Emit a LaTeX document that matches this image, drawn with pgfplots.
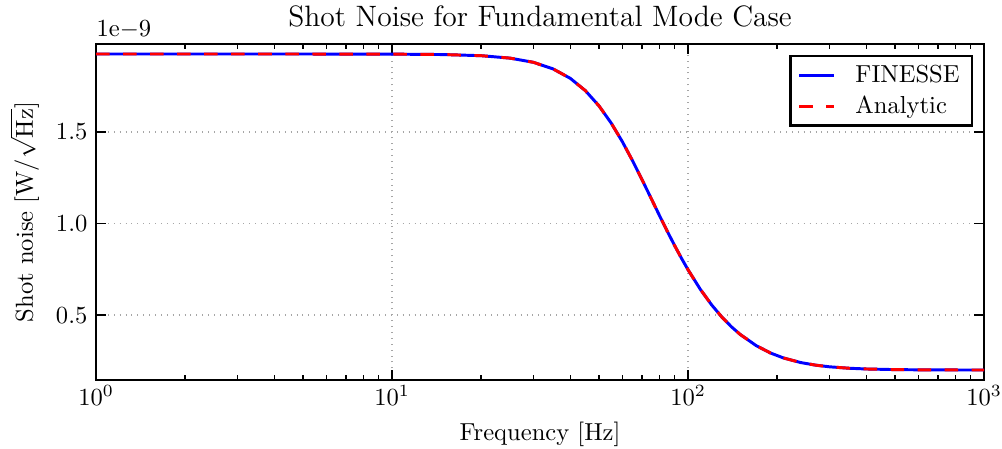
\documentclass[border=0pt]{standalone}
\usepackage{pgfplots}
\pgfplotsset{compat=1.18}
\pgfplotstableread{
f     v
1     1.9263
2     1.9262
5     1.9262
10    1.9256
15    1.9232
20    1.9170
25    1.9039
30    1.8810
35    1.8448
40    1.7934
45    1.7258
50    1.6432
55    1.5489
60    1.4469
65    1.3420
70    1.2381
75    1.1385
80    1.0451
85    0.9592
90    0.8810
95    0.8106
100   0.7475
110   0.6411
120   0.5568
130   0.4899
140   0.4369
150   0.3945
170   0.3331
190   0.2929
210   0.2661
240   0.2410
270   0.2266
300   0.2178
350   0.2098
400   0.2058
500   0.2024
600   0.2012
800   0.2004
1000  0.2001
}\finesse
\pgfplotstableread{
f     v
1     1.9263
2     1.9262
5     1.9262
10    1.9256
15    1.9232
20    1.9170
25    1.9039
30    1.8810
35    1.8448
40    1.7934
45    1.7258
50    1.6432
55    1.5489
60    1.4469
65    1.3420
70    1.2381
75    1.1385
80    1.0451
85    0.9592
90    0.8810
95    0.8106
100   0.7475
110   0.6411
120   0.5568
130   0.4899
140   0.4369
150   0.3945
170   0.3331
190   0.2929
210   0.2661
240   0.2410
270   0.2266
300   0.2178
350   0.2098
400   0.2058
500   0.2024
600   0.2012
800   0.2004
1000  0.2001
}\analytic
\begin{document}
\begin{tikzpicture}
\begin{axis}[
    scale only axis,
    width=361.4pt, height=136.8pt,
    clip mode=individual,
    xmode=log, log basis x=10,
    xmin=1, xmax=1000,
    ymin=0.145, ymax=1.981,
    ytick={0.5,1.0,1.5},
    yticklabel style={/pgf/number format/.cd, fixed, fixed zerofill, precision=1},
    xticklabel style={yshift=1.5pt},
    tick align=inside,
    xtick pos=both, ytick pos=both,
    major tick length=4pt, minor tick length=2pt,
    every tick/.style={black, line width=0.6pt},
    axis line style={line width=0.9pt},
    grid=major,
    major grid style={dotted, gray!70, line width=0.6pt},
    title={Shot Noise for Fundamental Mode Case},
    title style={font=\large, yshift=-2.5pt},
    xlabel={Frequency [Hz]},
    ylabel={Shot noise [W/$\sqrt{\mathrm{Hz}}$]},
    legend style={at={(1,1)}, anchor=north east, xshift=-4.5pt, yshift=-4.5pt,
        draw=black, line width=0.9pt, legend cell align=left,
        inner xsep=3pt, inner ysep=1.5pt, row sep=0pt,
        /tikz/every odd column/.append style={column sep=6pt}},
    legend image code/.code={\draw[mark repeat=2,mark phase=2] plot coordinates {(0cm,0cm) (0.25cm,0cm) (0.5cm,0cm)};},
]
\addplot[blue, line width=1.2pt] table[x=f, y=v] {\finesse};
\addlegendentry{FINESSE}
\addplot[red, line width=1.2pt, dash pattern=on 5.5pt off 5.5pt] table[x=f, y=v] {\analytic};
\addlegendentry{Analytic}
\node[anchor=south west, inner sep=0pt, yshift=2pt] at (rel axis cs:0,1) {1e$-$9};
\coordinate (bl) at (rel axis cs:0,0);
\coordinate (tr) at (rel axis cs:1,1);
\end{axis}
\pgfresetboundingbox
\path ([xshift=-39.1pt, yshift=-27.7pt]bl) rectangle ([xshift=7.3pt, yshift=17.9pt]tr);
\end{tikzpicture}
\end{document}
